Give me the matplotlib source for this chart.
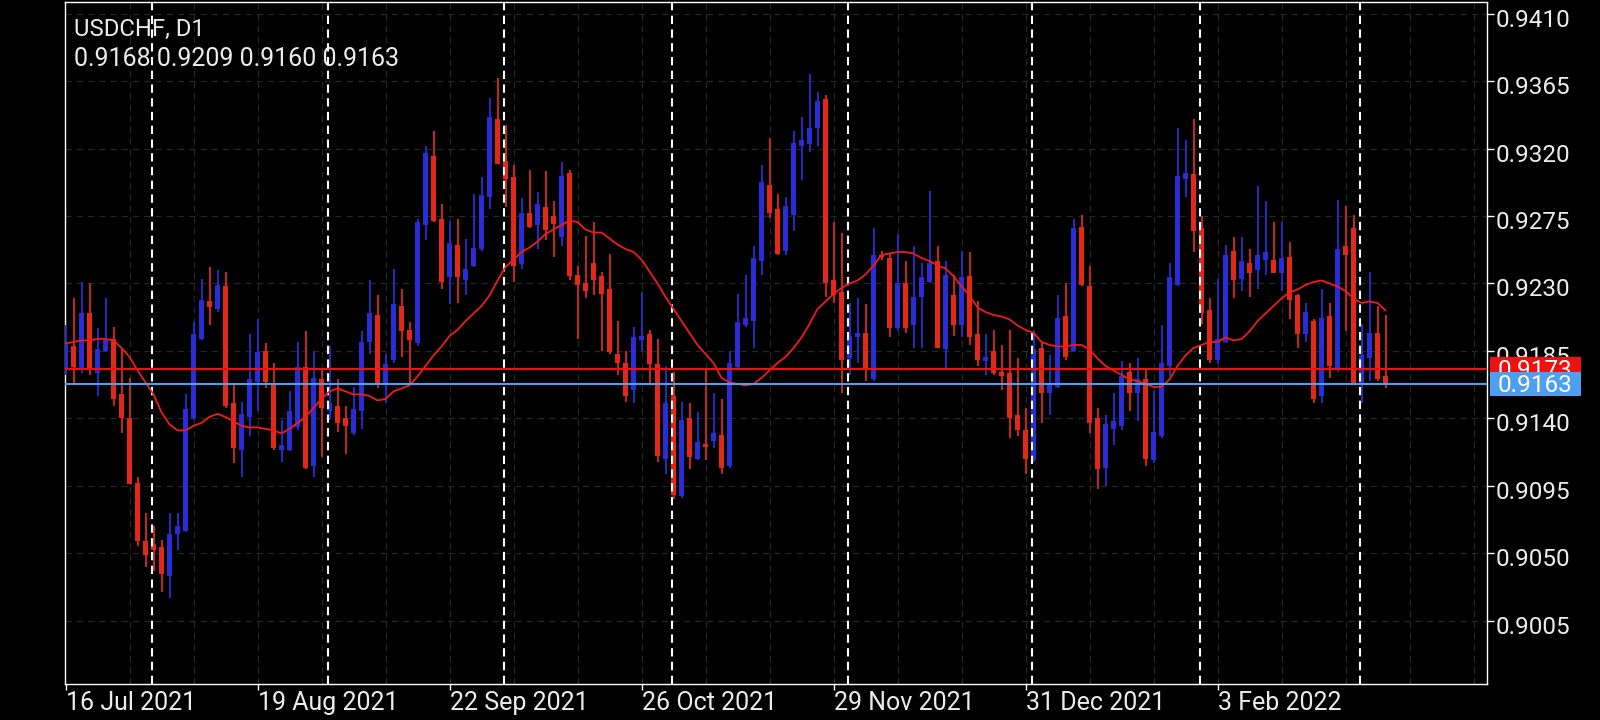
import matplotlib
matplotlib.use("Agg")
import matplotlib.pyplot as plt
import matplotlib.transforms as mtransforms
from matplotlib.patches import Rectangle
import numpy as np
import pandas as pd

# ---- data (USDCHF daily) ----
symbol = "USDCHF, D1"
first_day = "2021-07-16"

opens = [0.9173, 0.9188, 0.9172, 0.9210, 0.9170, 0.9185, 0.9193, 0.9156, 0.9140, 0.9097,
         0.9058, 0.9056, 0.9054, 0.9035, 0.9063, 0.9065, 0.9140, 0.9193, 0.9218, 0.9213,
         0.9228, 0.9150, 0.9119, 0.9141, 0.9164, 0.9185, 0.9162, 0.9119, 0.9119, 0.9134,
         0.9174, 0.9108, 0.9166, 0.9145, 0.9148, 0.9140, 0.9130, 0.9145, 0.9191, 0.9209,
         0.9163, 0.9179, 0.9215, 0.9199, 0.9190, 0.9269, 0.9315, 0.9273, 0.9234, 0.9256,
         0.9232, 0.9242, 0.9253, 0.9288, 0.9340, 0.9312, 0.9301, 0.9243, 0.9277, 0.9269,
         0.9281, 0.9275, 0.9261, 0.9304, 0.9236, 0.9230, 0.9244, 0.9235, 0.9226, 0.9183,
         0.9177, 0.9159, 0.9192, 0.9196, 0.9176, 0.9113, 0.9155, 0.9088, 0.9140, 0.9113,
         0.9123, 0.9125, 0.9129, 0.9108, 0.9174, 0.9202, 0.9205, 0.9245, 0.9296, 0.9280,
         0.9252, 0.9276, 0.9322, 0.9323, 0.9334, 0.9353, 0.9232, 0.9224, 0.9180, 0.9194,
         0.9197, 0.9166, 0.9249, 0.9247, 0.9200, 0.9230, 0.9202, 0.9221, 0.9231, 0.9245,
         0.9186, 0.9222, 0.9202, 0.9235, 0.9196, 0.9178, 0.9185, 0.9171, 0.9170, 0.9142,
         0.9132, 0.9112, 0.9187, 0.9157, 0.9161, 0.9208, 0.9185, 0.9268, 0.9228, 0.9140,
         0.9107, 0.9133, 0.9135, 0.9171, 0.9157, 0.9166, 0.9112, 0.9128, 0.9175, 0.9229,
         0.9300, 0.9303, 0.9267, 0.9212, 0.9179, 0.9191, 0.9252, 0.9233, 0.9244, 0.9239,
         0.9246, 0.9246, 0.9237, 0.9248, 0.9222, 0.9196, 0.9205, 0.9155, 0.9208, 0.9173,
         0.9255, 0.9267, 0.9162, 0.9180, 0.9197, 0.9168]
highs = [0.9202, 0.9220, 0.9231, 0.9230, 0.9200, 0.9220, 0.9201, 0.9186, 0.9167, 0.9101,
         0.9077, 0.9068, 0.9059, 0.9077, 0.9077, 0.9156, 0.9204, 0.9233, 0.9241, 0.9239,
         0.9238, 0.9163, 0.9151, 0.9196, 0.9206, 0.9190, 0.9177, 0.9139, 0.9158, 0.9191,
         0.9198, 0.9185, 0.9172, 0.9188, 0.9166, 0.9148, 0.9161, 0.9198, 0.9232, 0.9222,
         0.9183, 0.9240, 0.9226, 0.9204, 0.9273, 0.9322, 0.9332, 0.9283, 0.9272, 0.9273,
         0.9260, 0.9290, 0.9301, 0.9354, 0.9367, 0.9336, 0.9309, 0.9287, 0.9306, 0.9291,
         0.9305, 0.9285, 0.9311, 0.9306, 0.9242, 0.9262, 0.9271, 0.9238, 0.9250, 0.9205,
         0.9185, 0.9201, 0.9224, 0.9199, 0.9193, 0.9175, 0.9171, 0.9151, 0.9150, 0.9144,
         0.9173, 0.9157, 0.9153, 0.9185, 0.9223, 0.9236, 0.9255, 0.9309, 0.9327, 0.9290,
         0.9288, 0.9332, 0.9341, 0.9370, 0.9358, 0.9356, 0.9271, 0.9264, 0.9217, 0.9220,
         0.9216, 0.9267, 0.9252, 0.9250, 0.9263, 0.9245, 0.9255, 0.9244, 0.9292, 0.9255,
         0.9245, 0.9236, 0.9252, 0.9251, 0.9218, 0.9196, 0.9199, 0.9189, 0.9199, 0.9180,
         0.9147, 0.9199, 0.9191, 0.9182, 0.9222, 0.9230, 0.9273, 0.9276, 0.9242, 0.9147,
         0.9142, 0.9157, 0.9178, 0.9177, 0.9180, 0.9172, 0.9158, 0.9202, 0.9244, 0.9334,
         0.9326, 0.9340, 0.9275, 0.9220, 0.9233, 0.9256, 0.9261, 0.9261, 0.9253, 0.9295,
         0.9285, 0.9271, 0.9271, 0.9258, 0.9223, 0.9217, 0.9206, 0.9226, 0.9217, 0.9286,
         0.9282, 0.9276, 0.9203, 0.9238, 0.9215, 0.9209]
lows = [0.9169, 0.9163, 0.9170, 0.9169, 0.9155, 0.9184, 0.9148, 0.9130, 0.9096, 0.9055,
        0.9041, 0.9038, 0.9024, 0.9020, 0.9052, 0.9064, 0.9139, 0.9192, 0.9202, 0.9211,
        0.9147, 0.9110, 0.9101, 0.9128, 0.9145, 0.9160, 0.9119, 0.9111, 0.9118, 0.9132,
        0.9106, 0.9101, 0.9114, 0.9139, 0.9131, 0.9116, 0.9129, 0.9133, 0.9183, 0.9160,
        0.9150, 0.9177, 0.9181, 0.9162, 0.9188, 0.9259, 0.9271, 0.9226, 0.9216, 0.9217,
        0.9222, 0.9241, 0.9252, 0.9280, 0.9310, 0.9281, 0.9231, 0.9240, 0.9267, 0.9253,
        0.9259, 0.9248, 0.9255, 0.9232, 0.9193, 0.9220, 0.9222, 0.9185, 0.9183, 0.9169,
        0.9151, 0.9150, 0.9185, 0.9163, 0.9111, 0.9103, 0.9086, 0.9087, 0.9106, 0.9112,
        0.9112, 0.9120, 0.9103, 0.9107, 0.9173, 0.9201, 0.9187, 0.9236, 0.9274, 0.9249,
        0.9249, 0.9265, 0.9299, 0.9318, 0.9322, 0.9221, 0.9217, 0.9157, 0.9169, 0.9177,
        0.9165, 0.9165, 0.9246, 0.9194, 0.9198, 0.9197, 0.9187, 0.9187, 0.9230, 0.9187,
        0.9173, 0.9195, 0.9194, 0.9189, 0.9175, 0.9169, 0.9169, 0.9159, 0.9127, 0.9128,
        0.9103, 0.9111, 0.9137, 0.9142, 0.9160, 0.9179, 0.9184, 0.9228, 0.9130, 0.9093,
        0.9095, 0.9122, 0.9132, 0.9145, 0.9138, 0.9108, 0.9110, 0.9127, 0.9168, 0.9228,
        0.9288, 0.9251, 0.9203, 0.9177, 0.9176, 0.9190, 0.9220, 0.9225, 0.9221, 0.9226,
        0.9236, 0.9237, 0.9225, 0.9206, 0.9187, 0.9191, 0.9150, 0.9150, 0.9167, 0.9171,
        0.9198, 0.9163, 0.9150, 0.9165, 0.9165, 0.9160]
closes = [0.9190, 0.9174, 0.9210, 0.9172, 0.9186, 0.9192, 0.9153, 0.9140, 0.9096, 0.9058,
          0.9049, 0.9052, 0.9036, 0.9063, 0.9068, 0.9146, 0.9196, 0.9219, 0.9214, 0.9229,
          0.9148, 0.9120, 0.9143, 0.9166, 0.9184, 0.9164, 0.9120, 0.9122, 0.9145, 0.9174,
          0.9107, 0.9167, 0.9147, 0.9150, 0.9137, 0.9135, 0.9146, 0.9191, 0.9210, 0.9162,
          0.9176, 0.9216, 0.9198, 0.9192, 0.9271, 0.9317, 0.9272, 0.9231, 0.9257, 0.9234,
          0.9240, 0.9254, 0.9289, 0.9341, 0.9310, 0.9300, 0.9242, 0.9277, 0.9268, 0.9283,
          0.9266, 0.9270, 0.9302, 0.9235, 0.9229, 0.9225, 0.9232, 0.9223, 0.9184, 0.9177,
          0.9155, 0.9194, 0.9195, 0.9176, 0.9115, 0.9150, 0.9089, 0.9139, 0.9114, 0.9124,
          0.9121, 0.9130, 0.9107, 0.9177, 0.9204, 0.9207, 0.9247, 0.9298, 0.9277, 0.9250,
          0.9282, 0.9324, 0.9326, 0.9334, 0.9352, 0.9230, 0.9222, 0.9179, 0.9195, 0.9197,
          0.9172, 0.9249, 0.9248, 0.9200, 0.9230, 0.9200, 0.9221, 0.9234, 0.9244, 0.9187,
          0.9236, 0.9202, 0.9234, 0.9194, 0.9179, 0.9181, 0.9170, 0.9168, 0.9140, 0.9132,
          0.9113, 0.9186, 0.9157, 0.9163, 0.9207, 0.9181, 0.9267, 0.9229, 0.9137, 0.9106,
          0.9136, 0.9138, 0.9168, 0.9157, 0.9166, 0.9113, 0.9131, 0.9177, 0.9234, 0.9302,
          0.9304, 0.9265, 0.9210, 0.9179, 0.9193, 0.9249, 0.9232, 0.9245, 0.9237, 0.9249,
          0.9251, 0.9237, 0.9247, 0.9219, 0.9196, 0.9211, 0.9153, 0.9207, 0.9175, 0.9253,
          0.9249, 0.9163, 0.9182, 0.9197, 0.9166, 0.9163]
# moving average line as drawn on the chart
ma_line = [0.9190, 0.9191, 0.9192, 0.9192, 0.9193, 0.9193, 0.9192, 0.9187, 0.9181, 0.9172,
           0.9164, 0.9156, 0.9144, 0.9136, 0.9132, 0.9132, 0.9135, 0.9137, 0.9141, 0.9143,
           0.9141, 0.9138, 0.9135, 0.9134, 0.9134, 0.9133, 0.9132, 0.9130, 0.9133, 0.9137,
           0.9141, 0.9147, 0.9153, 0.9158, 0.9160, 0.9158, 0.9156, 0.9156, 0.9155, 0.9152,
           0.9153, 0.9158, 0.9160, 0.9162, 0.9168, 0.9175, 0.9182, 0.9188, 0.9195, 0.9199,
           0.9205, 0.9210, 0.9215, 0.9222, 0.9232, 0.9241, 0.9246, 0.9251, 0.9254, 0.9258,
           0.9263, 0.9266, 0.9269, 0.9272, 0.9271, 0.9266, 0.9264, 0.9264, 0.9260, 0.9256,
           0.9253, 0.9251, 0.9246, 0.9238, 0.9230, 0.9221, 0.9213, 0.9205, 0.9197, 0.9189,
           0.9183, 0.9177, 0.9167, 0.9164, 0.9163, 0.9162, 0.9163, 0.9167, 0.9172, 0.9177,
           0.9181, 0.9187, 0.9194, 0.9203, 0.9213, 0.9218, 0.9223, 0.9227, 0.9230, 0.9232,
           0.9236, 0.9242, 0.9249, 0.9250, 0.9251, 0.9251, 0.9250, 0.9247, 0.9245, 0.9242,
           0.9240, 0.9235, 0.9228, 0.9222, 0.9214, 0.9211, 0.9209, 0.9208, 0.9206, 0.9202,
           0.9199, 0.9197, 0.9191, 0.9189, 0.9188, 0.9188, 0.9189, 0.9189, 0.9186, 0.9180,
           0.9175, 0.9172, 0.9169, 0.9166, 0.9165, 0.9163, 0.9161, 0.9161, 0.9166, 0.9175,
           0.9182, 0.9187, 0.9189, 0.9191, 0.9191, 0.9194, 0.9192, 0.9193, 0.9198, 0.9205,
           0.9210, 0.9215, 0.9220, 0.9224, 0.9226, 0.9229, 0.9231, 0.9232, 0.9230, 0.9228,
           0.9225, 0.9220, 0.9217, 0.9218, 0.9217, 0.9212]

ask_price = 0.9173
bid_price = 0.9163
price_ticks = [0.9005, 0.9050, 0.9095, 0.9140, 0.9185, 0.9230, 0.9275, 0.9320, 0.9365, 0.9410]
date_labels = ["16 Jul 2021", "19 Aug 2021", "22 Sep 2021", "26 Oct 2021",
               "29 Nov 2021", "31 Dec 2021", "3 Feb 2022"]

# ---- styling ----
BULL = "#2b2bd8"
BULL_WICK = "#2a2ac4"
BEAR = "#e3281b"
BEAR_WICK = "#c8291d"
MA_COLOR = "#f01c1c"
ASK_COLOR = "#f01010"
BID_COLOR = "#4f9ff0"
GRID = "#262626"
TXT = "#ececec"
FONT = "Roboto"
FS = 17.5

dates = pd.bdate_range(first_day, periods=len(opens))
x = np.arange(len(opens))
o = np.array(opens)
h = np.array(highs)
l = np.array(lows)
c = np.array(closes)
up = c >= o

fig = plt.figure(figsize=(16, 7.2), dpi=100, facecolor="black")
W, H = 1600, 720
left, right, top, bottom = 65.3, 1486.7, 2.0, 683.7
ax = fig.add_axes([left / W, 1 - bottom / H, (right - left) / W, (bottom - top) / H])
ax.set_facecolor("black")
ax.set_xlim(-0.03, 177.65)
ax.set_ylim(0.89630, 0.94178)

# grid
for p in price_ticks:
    ax.axhline(p, color=GRID, lw=0.9, ls=(0, (5, 4)), zorder=1)
for gx in range(8, 178, 8):
    ax.axvline(gx, color=GRID, lw=0.9, ls=(0, (5, 4)), zorder=1)

# candles
body_lo = np.minimum(o, c)
body_h = np.maximum(np.abs(c - o), 0.00004)
ax.vlines(x[up], l[up], h[up], color=BULL_WICK, lw=1.4, zorder=3)
ax.vlines(x[~up], l[~up], h[~up], color=BEAR_WICK, lw=1.4, zorder=3)
ax.bar(x[up], body_h[up], bottom=body_lo[up], width=0.7, color=BULL, lw=0, zorder=3.5)
ax.bar(x[~up], body_h[~up], bottom=body_lo[~up], width=0.7, color=BEAR, lw=0, zorder=3.5)

# month separators
month_starts = [i for i in range(1, len(dates)) if dates[i].month != dates[i - 1].month]
for i in month_starts:
    ax.axvline(i - 0.2, color="white", lw=1.5, ls=(0, (4, 2.6)), zorder=4)

# moving average
ax.plot(x, ma_line, color=MA_COLOR, lw=1.3, zorder=5)

# bid / ask lines
ax.axhline(ask_price, color=ASK_COLOR, lw=1.5, zorder=6)
ax.axhline(bid_price, color=BID_COLOR, lw=1.5, zorder=6)

# axes look
for s in ax.spines.values():
    s.set_color("white")
    s.set_linewidth(1.0)
ax.yaxis.tick_right()
ax.set_yticks(price_ticks)
ax.set_yticklabels([f"{p:.4f}" for p in price_ticks])
ax.tick_params(axis="y", colors="white", length=5, width=1, pad=1.5,
               labelcolor=TXT, labelsize=FS)
shift = mtransforms.ScaledTranslation(0, -4 / 100, fig.dpi_scale_trans)
for lab in ax.get_yticklabels():
    lab.set_fontfamily(FONT)
    lab.set_transform(lab.get_transform() + shift)

label_idx = [list(dates.strftime("%-d %b %Y")).index(d) for d in date_labels]
ax.set_xticks(label_idx)
ax.set_xticklabels(date_labels, ha="left")
ax.tick_params(axis="x", colors="white", length=4, width=1, pad=1,
               labelcolor=TXT, labelsize=18)
for lab in ax.get_xticklabels():
    lab.set_fontfamily(FONT)

# price tags on the right (the bid tag sits over the ask tag, as in the terminal)
trans = mtransforms.blended_transform_factory(ax.transAxes, ax.transData)
tag_x0 = (1490 - left) / (right - left)
tag_w = (1580.7 - 1490) / (right - left)
tag_h = 24.6 / ((bottom - top) / (0.94178 - 0.89630))
tag_cx = tag_x0 + tag_w / 2
for price, col, z in [(ask_price, ASK_COLOR, 10), (bid_price, BID_COLOR, 12)]:
    ax.add_patch(Rectangle((tag_x0, price - tag_h / 2), tag_w, tag_h, transform=trans,
                           facecolor=col, edgecolor="none", clip_on=False, zorder=z))
    t = ax.text(tag_cx, price, f"{price:.4f}", transform=trans, ha="center", va="center",
                color="white", fontsize=FS, fontfamily=FONT, clip_on=False, zorder=z + 1)
    t.set_transform(t.get_transform() + mtransforms.ScaledTranslation(0, -2 / 100, fig.dpi_scale_trans))

# header
fig.text(73.5 / W, 1 - 29 / H, symbol, color=TXT, fontsize=17.2, fontfamily=FONT, va="center")
fig.text(73.5 / W, 1 - 59 / H, f"{o[-1]:.4f} {h[-1]:.4f} {l[-1]:.4f} {c[-1]:.4f}",
         color=TXT, fontsize=18, fontfamily=FONT, va="center")

fig.savefig("out.png", dpi=100, facecolor="black")
